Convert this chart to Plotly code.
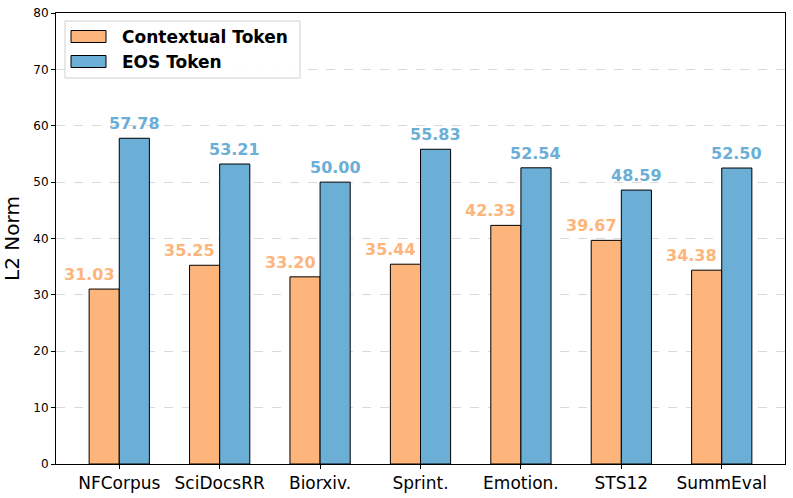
import plotly.graph_objects as go

categories = ["NFCorpus", "SciDocsRR", "Biorxiv.", "Sprint.", "Emotion.", "STS12", "SummEval"]
contextual = [31.03, 35.25, 33.20, 35.44, 42.33, 39.67, 34.38]
eos = [57.78, 53.21, 50.00, 55.83, 52.54, 48.59, 52.50]
y_ticks = [0, 10, 20, 30, 40, 50, 60, 70, 80]
series_names = ["Contextual Token", "EOS Token"]

ORANGE = "#FDB57B"
BLUE = "#6BAED6"
FONT = "DejaVu Sans"

W, H = 793, 498
ML, MR, MT, MB = 56, 8, 13, 34
PW, PH = W - ML - MR, H - MT - MB

def px_x(x):
    return (x - ML) / PW

def px_y(y):
    return 1 - (y - MT) / PH

fig = go.Figure()
fig.add_trace(go.Bar(x=categories, y=contextual, name=series_names[0], showlegend=False,
                     marker=dict(color=ORANGE, line=dict(color="black", width=1))))
fig.add_trace(go.Bar(x=categories, y=eos, name=series_names[1], showlegend=False,
                     marker=dict(color=BLUE, line=dict(color="black", width=1))))

annotations = []
for c, v in zip(categories, contextual):
    annotations.append(dict(x=c, y=v, text=f"{v:.2f}", showarrow=False, xshift=-30, yshift=3,
                            yanchor="bottom", font=dict(family=FONT, size=16, color=ORANGE, weight="bold")))
for c, v in zip(categories, eos):
    annotations.append(dict(x=c, y=v, text=f"{v:.2f}", showarrow=False, xshift=15, yshift=3,
                            yanchor="bottom", font=dict(family=FONT, size=16, color=BLUE, weight="bold")))

# custom legend (matplotlib-style wide patches)
shapes = [dict(type="rect", xref="paper", yref="paper",
               x0=px_x(65), x1=px_x(300), y0=px_y(78), y1=px_y(21),
               line=dict(color="#d0d0d0", width=1), fillcolor="rgba(255,255,255,0.9)", layer="above")]
for i, (name, col) in enumerate(zip(series_names, [ORANGE, BLUE])):
    yc = 36.5 + i * 25
    shapes.append(dict(type="rect", xref="paper", yref="paper",
                       x0=px_x(71), x1=px_x(106), y0=px_y(yc + 6), y1=px_y(yc - 6),
                       line=dict(color="black", width=1), fillcolor=col, layer="above"))
    annotations.append(dict(xref="paper", yref="paper", x=px_x(120), y=px_y(yc), text=name,
                            showarrow=False, xanchor="left", yanchor="middle",
                            font=dict(family=FONT, size=17, color="black", weight="bold")))

fig.update_layout(
    width=W, height=H,
    margin=dict(l=ML, r=MR, t=MT, b=MB, autoexpand=False),
    plot_bgcolor="white", paper_bgcolor="white",
    barmode="group", bargap=0.4, bargroupgap=0,
    font=dict(family=FONT, color="black"),
    annotations=annotations, shapes=shapes,
    showlegend=False,
    xaxis=dict(range=[-0.63, 6.63], showline=True, linecolor="black", linewidth=1, mirror=True,
               ticks="outside", ticklen=4, tickcolor="black", tickfont=dict(size=17, family=FONT),
               showgrid=False, automargin=False),
    yaxis=dict(range=[0, 80], tickvals=y_ticks, showline=True, linecolor="black", linewidth=1, mirror=True,
               ticks="outside", ticklen=4, tickcolor="black", tickfont=dict(size=12, family=FONT),
               showgrid=True, gridcolor="#d9d9d9", griddash="dash", gridwidth=1,
               title=dict(text="L2 Norm", font=dict(size=20, family=FONT), standoff=10),
               zeroline=False, automargin=False),
)

fig.write_html("out.html", config={"displayModeBar": False},
               post_script="document.body.style.margin='0';document.body.style.padding='0';document.body.style.overflow='hidden';")
